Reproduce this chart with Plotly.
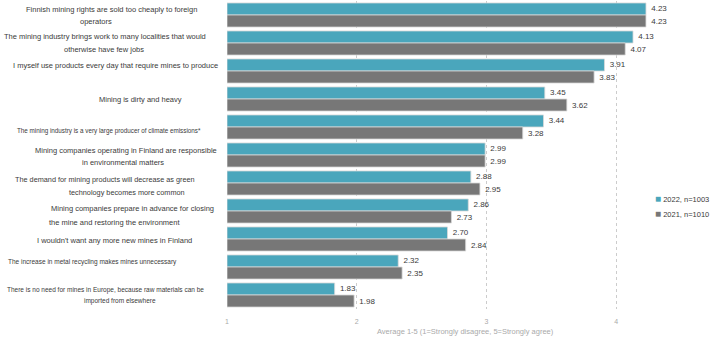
import plotly.graph_objects as go

categories = [
    "Finnish mining rights are sold too cheaply to foreign operators",
    "The mining industry brings work to many localities that would otherwise have few jobs",
    "I myself use products every day that require mines to produce",
    "Mining is dirty and heavy",
    "The mining industry is a very large producer of climate emissions*",
    "Mining companies operating in Finland are responsible in environmental matters",
    "The demand for mining products will decrease as green technology becomes more common",
    "Mining companies prepare in advance for closing the mine and restoring the environment",
    "I wouldn't want any more new mines in Finland",
    "The increase in metal recycling makes mines unnecessary",
    "There is no need for mines in Europe, because raw materials can be imported from elsewhere",
]
values_2022 = [4.23, 4.13, 3.91, 3.45, 3.44, 2.99, 2.88, 2.86, 2.70, 2.32, 1.83]
values_2021 = [4.23, 4.07, 3.83, 3.62, 3.28, 2.99, 2.95, 2.73, 2.84, 2.35, 1.98]
series_names = ["2022, n=1003", "2021, n=1010"]
x_ticks = [1, 2, 3, 4]
axis_title = "Average 1-5 (1=Strongly disagree, 5=Strongly agree)"

# label line-wrapping / placement (layout only): (text, center px, y offset px, font size)
label_lines = [
    [("Finnish mining rights are sold too cheaply to foreign", 112, -6, 7.5), ("operators", 96, 6, 7.5)],
    [("The mining industry brings work to many localities that would", 105, -7, 7.5), ("otherwise have few jobs", 104, 6, 7.5)],
    [("I myself use products every day that require mines to produce", 115.5, -6, 7.5)],
    [("Mining is dirty and heavy", 140.5, 0, 7.5)],
    [("The mining industry is a very large producer of climate emissions*", 108.5, 4, 6.3)],
    [("Mining companies operating in Finland are responsible", 126, -5, 7.5), ("in environmental matters", 123, 7, 7.5)],
    [("The demand for mining products will decrease as green", 105, -4, 7.3), ("technology becomes more common", 127, 9, 7.3)],
    [("Mining companies prepare in advance for closing", 132, -3, 7.5), ("the mine and restoring the environment", 114, 11, 7.5)],
    [("I wouldn't want any more new mines in Finland", 114.5, 1, 7.5)],
    [("The increase in metal recycling makes mines unnecessary", 92, -5, 6.5)],
    [("There is no need for mines in Europe, because raw materials can be", 105.5, -5, 6.5), ("imported from elsewhere", 120, 6, 6.5)],
]

TEAL = "#4aa6bc"
GRAY = "#777777"
FONT = "Liberation Sans, Arial, sans-serif"
TXT = "#3a3a3a"

W, H = 720, 339
L, R, T, B = 227, 39, 1, 30
plot_w = W - L - R
plot_h = H - T - B
pitch = plot_h / len(categories)

ypos = list(range(len(categories)))
colors = [TEAL, GRAY]
legend_y_px = [199, 213]

fig = go.Figure()
for name, vals, col in [(series_names[0], values_2022, TEAL), (series_names[1], values_2021, GRAY)]:
    fig.add_trace(go.Bar(
        y=ypos, x=[v - 1 for v in vals], base=1, orientation="h", name=name,
        marker=dict(color=col, line=dict(color="#d9d9d9", width=0.8)),
        text=[f"\u00a0{v:.2f}" for v in vals], textposition="outside",
        textfont=dict(size=8, color=TXT, family=FONT),
        cliponaxis=False, showlegend=False, hoverinfo="skip",
    ))

annotations = []
for i, lines in enumerate(label_lines):
    for text, cx, dy, fs in lines:
        annotations.append(dict(
            text=text, xref="paper", yref="y",
            x=(cx - L) / plot_w, y=i + dy / pitch,
            xanchor="center", yanchor="middle", showarrow=False,
            font=dict(size=fs, color=TXT, family=FONT),
        ))
annotations.append(dict(
    text=axis_title, xref="paper", yref="paper",
    x=(465 - L) / plot_w, y=-(331 - (T + plot_h)) / plot_h,
    xanchor="center", yanchor="middle", showarrow=False,
    font=dict(size=7.5, color="#aaaaaa", family=FONT),
))
# legend entries
for name, col, ly in zip(series_names, colors, legend_y_px):
    annotations.append(dict(
        text=f'<span style="color:{col};font-size:10px">■</span> {name}', xref="paper", yref="paper",
        x=(653 - L) / plot_w, y=(H - ly - B) / plot_h,
        xanchor="left", yanchor="middle", showarrow=False,
        font=dict(size=7.5, color=TXT, family=FONT),
    ))

fig.update_layout(
    width=W, height=H,
    margin=dict(l=L, r=R, t=T, b=B),
    paper_bgcolor="white", plot_bgcolor="white",
    barmode="group", bargap=0.14, bargroupgap=0,
    font=dict(family=FONT, color=TXT),
    annotations=annotations,
    showlegend=False,
    xaxis=dict(
        range=[1, 4.5], tickvals=x_ticks, ticktext=[str(t) for t in x_ticks],
        showgrid=True, gridcolor="#cccccc", griddash="dot", gridwidth=1,
        zeroline=False, showline=False, ticks="", ticklabelstandoff=7,
        tickfont=dict(size=7, color="#aaaaaa", family=FONT),
    ),
    yaxis=dict(
        range=[len(categories) - 0.5, -0.5], showticklabels=False,
        showgrid=False, zeroline=False, showline=False, ticks="",
    ),
)

fig.write_html("out.html")
